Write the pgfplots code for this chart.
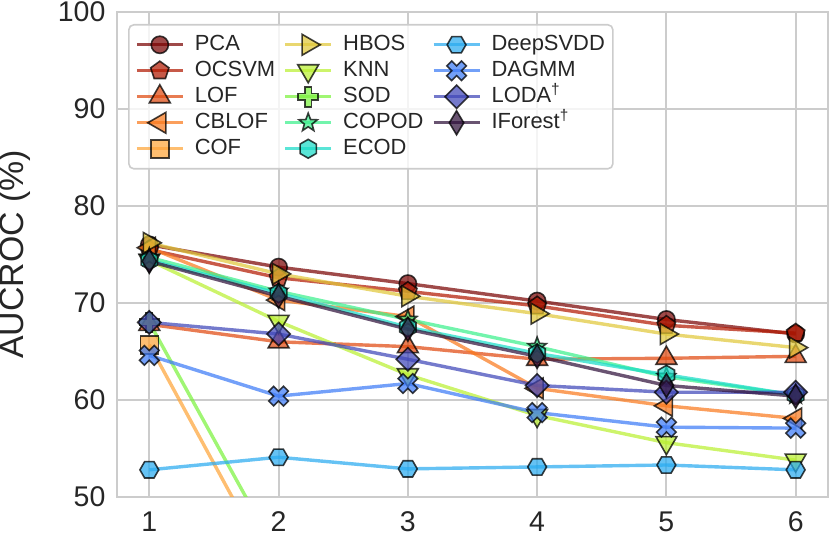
\documentclass[border=0pt]{standalone}
\usepackage{pgfplots}
\pgfplotsset{compat=1.18}
\usepackage{fontspec}
\setmainfont{Liberation Sans}
\usetikzlibrary{plotmarks}

\definecolor{gridgray}{HTML}{CCCCCC}
\definecolor{txt}{HTML}{262626}
\definecolor{cPCA}{HTML}{7A0403}
\definecolor{cOCSVM}{HTML}{B31B03}
\definecolor{cLOF}{HTML}{E04A10}
\definecolor{cCBLOF}{HTML}{FA7A1E}
\definecolor{cCOF}{HTML}{FEA53A}
\definecolor{cHBOS}{HTML}{E1C83A}
\definecolor{cKNN}{HTML}{BAF032}
\definecolor{cSOD}{HTML}{7CF23E}
\definecolor{cCOPOD}{HTML}{3CF08C}
\definecolor{cECOD}{HTML}{1ADCC8}
\definecolor{cDeep}{HTML}{2AABF0}
\definecolor{cDAGMM}{HTML}{3D7BF7}
\definecolor{cLODA}{HTML}{3F46B8}
\definecolor{cIF}{HTML}{30123B}

% custom marks
\pgfdeclareplotmark{hexv}{%
  \pgfpathmoveto{\pgfqpoint{0pt}{\pgfplotmarksize}}%
  \pgfpathlineto{\pgfqpoint{0.866\pgfplotmarksize}{0.5\pgfplotmarksize}}%
  \pgfpathlineto{\pgfqpoint{0.866\pgfplotmarksize}{-0.5\pgfplotmarksize}}%
  \pgfpathlineto{\pgfqpoint{0pt}{-\pgfplotmarksize}}%
  \pgfpathlineto{\pgfqpoint{-0.866\pgfplotmarksize}{-0.5\pgfplotmarksize}}%
  \pgfpathlineto{\pgfqpoint{-0.866\pgfplotmarksize}{0.5\pgfplotmarksize}}%
  \pgfpathclose\pgfusepathqfillstroke}
\pgfdeclareplotmark{hexh}{%
  \pgfpathmoveto{\pgfqpoint{\pgfplotmarksize}{0pt}}%
  \pgfpathlineto{\pgfqpoint{0.5\pgfplotmarksize}{0.866\pgfplotmarksize}}%
  \pgfpathlineto{\pgfqpoint{-0.5\pgfplotmarksize}{0.866\pgfplotmarksize}}%
  \pgfpathlineto{\pgfqpoint{-\pgfplotmarksize}{0pt}}%
  \pgfpathlineto{\pgfqpoint{-0.5\pgfplotmarksize}{-0.866\pgfplotmarksize}}%
  \pgfpathlineto{\pgfqpoint{0.5\pgfplotmarksize}{-0.866\pgfplotmarksize}}%
  \pgfpathclose\pgfusepathqfillstroke}
\pgfdeclareplotmark{dmd}{%
  \pgfpathmoveto{\pgfqpoint{0pt}{\pgfplotmarksize}}%
  \pgfpathlineto{\pgfqpoint{\pgfplotmarksize}{0pt}}%
  \pgfpathlineto{\pgfqpoint{0pt}{-\pgfplotmarksize}}%
  \pgfpathlineto{\pgfqpoint{-\pgfplotmarksize}{0pt}}%
  \pgfpathclose\pgfusepathqfillstroke}
\pgfdeclareplotmark{thindmd}{%
  \pgfpathmoveto{\pgfqpoint{0pt}{\pgfplotmarksize}}%
  \pgfpathlineto{\pgfqpoint{0.6\pgfplotmarksize}{0pt}}%
  \pgfpathlineto{\pgfqpoint{0pt}{-\pgfplotmarksize}}%
  \pgfpathlineto{\pgfqpoint{-0.6\pgfplotmarksize}{0pt}}%
  \pgfpathclose\pgfusepathqfillstroke}
\pgfdeclareplotmark{fatplus}{%
  \pgfpathmoveto{\pgfqpoint{-0.33\pgfplotmarksize}{\pgfplotmarksize}}%
  \pgfpathlineto{\pgfqpoint{0.33\pgfplotmarksize}{\pgfplotmarksize}}%
  \pgfpathlineto{\pgfqpoint{0.33\pgfplotmarksize}{0.33\pgfplotmarksize}}%
  \pgfpathlineto{\pgfqpoint{\pgfplotmarksize}{0.33\pgfplotmarksize}}%
  \pgfpathlineto{\pgfqpoint{\pgfplotmarksize}{-0.33\pgfplotmarksize}}%
  \pgfpathlineto{\pgfqpoint{0.33\pgfplotmarksize}{-0.33\pgfplotmarksize}}%
  \pgfpathlineto{\pgfqpoint{0.33\pgfplotmarksize}{-\pgfplotmarksize}}%
  \pgfpathlineto{\pgfqpoint{-0.33\pgfplotmarksize}{-\pgfplotmarksize}}%
  \pgfpathlineto{\pgfqpoint{-0.33\pgfplotmarksize}{-0.33\pgfplotmarksize}}%
  \pgfpathlineto{\pgfqpoint{-\pgfplotmarksize}{-0.33\pgfplotmarksize}}%
  \pgfpathlineto{\pgfqpoint{-\pgfplotmarksize}{0.33\pgfplotmarksize}}%
  \pgfpathlineto{\pgfqpoint{-0.33\pgfplotmarksize}{0.33\pgfplotmarksize}}%
  \pgfpathclose\pgfusepathqfillstroke}
\pgfdeclareplotmark{fatx}{%
  \pgftransformrotate{45}%
  \pgfuseplotmark{fatplus}}
\pgfdeclareplotmark{star5}{%
  \pgfpathmoveto{\pgfpointpolar{90}{\pgfplotmarksize}}%
  \pgfpathlineto{\pgfpointpolar{126}{0.42\pgfplotmarksize}}%
  \pgfpathlineto{\pgfpointpolar{162}{\pgfplotmarksize}}%
  \pgfpathlineto{\pgfpointpolar{198}{0.42\pgfplotmarksize}}%
  \pgfpathlineto{\pgfpointpolar{234}{\pgfplotmarksize}}%
  \pgfpathlineto{\pgfpointpolar{270}{0.42\pgfplotmarksize}}%
  \pgfpathlineto{\pgfpointpolar{306}{\pgfplotmarksize}}%
  \pgfpathlineto{\pgfpointpolar{342}{0.42\pgfplotmarksize}}%
  \pgfpathlineto{\pgfpointpolar{18}{\pgfplotmarksize}}%
  \pgfpathlineto{\pgfpointpolar{54}{0.42\pgfplotmarksize}}%
  \pgfpathclose\pgfusepathqfillstroke}

\pgfplotsset{
  ser/.style n args={4}{draw=#1, draw opacity=0.72, line width=1.7bp, mark=#2,
    mark options={solid, fill=#1, fill opacity=0.72, draw=black, draw opacity=0.75,
      line width=0.8bp, mark size=#3, #4}},
  sPCA/.style={ser={cPCA}{*}{4.3bp}{}},
  sOCSVM/.style={ser={cOCSVM}{pentagon*}{4.8bp}{}},
  sLOF/.style={ser={cLOF}{triangle*}{6bp}{}},
  sCBLOF/.style={ser={cCBLOF}{triangle*}{6bp}{rotate=90}},
  sCOF/.style={ser={cCOF}{square*}{4.5bp}{}},
  sHBOS/.style={ser={cHBOS}{triangle*}{6bp}{rotate=-90}},
  sKNN/.style={ser={cKNN}{triangle*}{6bp}{rotate=180}},
  sSOD/.style={ser={cSOD}{fatplus}{5bp}{}},
  sCOPOD/.style={ser={cCOPOD}{star5}{4.8bp}{}},
  sECOD/.style={ser={cECOD}{hexv}{4.7bp}{}},
  sDeep/.style={ser={cDeep}{hexh}{4.7bp}{}},
  sDAGMM/.style={ser={cDAGMM}{fatx}{5.2bp}{}},
  sLODA/.style={ser={cLODA}{dmd}{5.8bp}{}},
  sIF/.style={ser={cIF}{thindmd}{6bp}{}},
}

\begin{document}
\begin{tikzpicture}
\useasboundingbox (-58.5bp,-22bp) rectangle (356.5bp,248.5bp);
\begin{axis}[
  at={(0,0)}, anchor=south west, scale only axis,
  width=355.5bp, height=242.5bp,
  xmin=0.75, xmax=6.25, ymin=50, ymax=100,
  xtick={1,2,3,4,5,6}, ytick={50,60,70,80,90,100},
  major tick length=0pt,
  grid=major, grid style={color=gridgray, line width=1bp},
  axis line style={color=gridgray, line width=1bp},
  /pgf/number format/assume math mode=true,
  tick label style={font=\fontsize{14.3}{16}\selectfont, color=txt},
  yticklabel style={xshift=-2.3bp},
  xticklabel style={yshift=-4bp},
  ylabel={AUCROC (\%)},
  every axis y label/.style={at={(axis description cs:-0.1435,0.5)}, rotate=90, anchor=center,
    font=\fontsize{17}{19}\selectfont, color=txt},
  legend columns=3,
  legend cell align=left,
  legend image code/.code={%
    \path[draw=none,fill=none] (0bp,-3bp) rectangle (23bp,3bp);
    \draw[overlay,sharp corners,mark repeat=2,mark phase=2,#1] plot coordinates {(0bp,0bp) (11.5bp,0bp) (23bp,0bp)};
  },
  legend style={at={(0.0155,0.9753)}, anchor=north west, draw=gridgray, line width=0.8bp,
    fill=white, fill opacity=0.8, text opacity=1, rounded corners=2.5bp,
    font=\fontsize{11}{13}\selectfont, text=txt,
    inner xsep=4bp, inner ysep=3.5bp, row sep=0pt,
    nodes={inner ysep=1bp, inner xsep=0pt, text height=8.2bp, text depth=2.8bp},
    /tikz/every odd column/.style={column sep=6bp},
    /tikz/every even column/.style={column sep=5bp}},
]
\addplot[sPCA, forget plot] coordinates {(1,76.0) (2,73.7) (3,72.0) (4,70.2) (5,68.3) (6,66.8)};
\addplot[sOCSVM, forget plot] coordinates {(1,75.5) (2,72.6) (3,71.2) (4,69.7) (5,67.7) (6,66.9)};
\addplot[sLOF, forget plot] coordinates {(1,67.8) (2,66.0) (3,65.5) (4,64.2) (5,64.3) (6,64.5)};
\addplot[sCBLOF, forget plot] coordinates {(1,75.7) (2,70.3) (3,68.6) (4,61.2) (5,59.4) (6,58.1)};
\addplot[sCOF, forget plot] coordinates {(1,65.7) (2,41.2) (3,40.5) (4,40.2) (5,40.0) (6,40.0)};
\addplot[sHBOS, forget plot] coordinates {(1,76.2) (2,73.0) (3,70.7) (4,68.9) (5,66.8) (6,65.4)};
\addplot[sKNN, forget plot] coordinates {(1,74.4) (2,68.1) (3,62.6) (4,58.4) (5,55.6) (6,53.8)};
\addplot[sSOD, forget plot] coordinates {(1,68.0) (2,43.9) (3,42.5) (4,41.5) (5,41.0) (6,41.0)};
\addplot[sCOPOD, forget plot] coordinates {(1,74.7) (2,71.2) (3,68.3) (4,65.5) (5,62.4) (6,60.5)};
\addplot[sECOD, forget plot] coordinates {(1,74.4) (2,71.0) (3,67.5) (4,64.8) (5,62.6) (6,60.5)};
\addplot[sDeep, forget plot] coordinates {(1,52.8) (2,54.1) (3,52.9) (4,53.1) (5,53.3) (6,52.8)};
\addplot[sDAGMM, forget plot] coordinates {(1,64.6) (2,60.4) (3,61.7) (4,58.7) (5,57.2) (6,57.1)};
\addplot[sLODA, forget plot] coordinates {(1,68.0) (2,66.8) (3,64.2) (4,61.5) (5,60.8) (6,60.8)};
\addplot[sIF, forget plot] coordinates {(1,74.3) (2,70.7) (3,67.3) (4,64.5) (5,61.5) (6,60.4)};

\addlegendimage{sPCA}\addlegendentry{PCA}
\addlegendimage{sHBOS}\addlegendentry{HBOS}
\addlegendimage{sDeep}\addlegendentry{DeepSVDD}
\addlegendimage{sOCSVM}\addlegendentry{OCSVM}
\addlegendimage{sKNN}\addlegendentry{KNN}
\addlegendimage{sDAGMM}\addlegendentry{DAGMM}
\addlegendimage{sLOF}\addlegendentry{LOF}
\addlegendimage{sSOD}\addlegendentry{SOD}
\addlegendimage{sLODA}\addlegendentry{LODA\textsuperscript{†}}
\addlegendimage{sCBLOF}\addlegendentry{CBLOF}
\addlegendimage{sCOPOD}\addlegendentry{COPOD}
\addlegendimage{sIF}\addlegendentry{IForest\textsuperscript{†}}
\addlegendimage{sCOF}\addlegendentry{COF}
\addlegendimage{sECOD}\addlegendentry{ECOD}
\end{axis}
\end{tikzpicture}
\end{document}
